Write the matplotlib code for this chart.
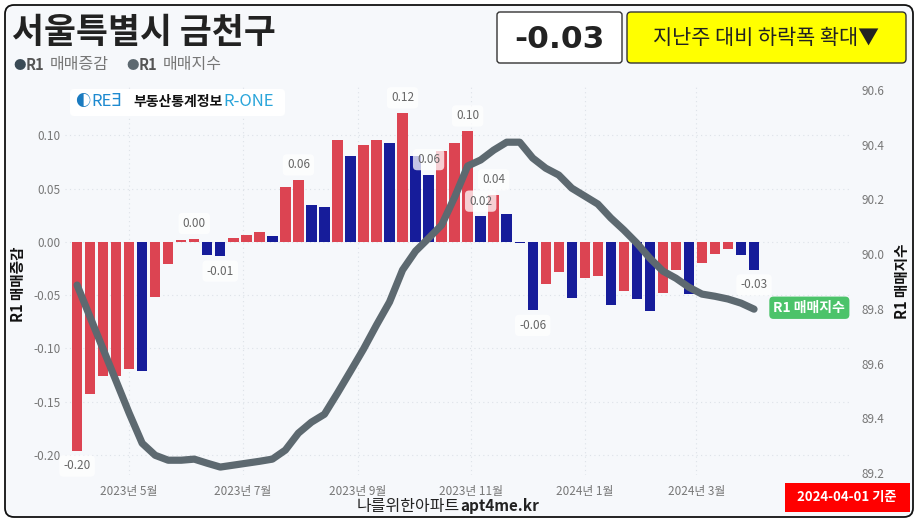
import matplotlib
matplotlib.use("Agg")
import matplotlib.pyplot as plt
from matplotlib.patches import FancyBboxPatch
from matplotlib.transforms import IdentityTransform
import pandas as pd

plt.rcParams['font.family'] = ['Noto Sans CJK KR', 'DejaVu Sans']

# weekly data, 2023-04-03 .. 2024-04-01
start_date = '2023-04-03'
n_weeks = 53
change = [-0.196, -0.143, -0.126, -0.126, -0.119, -0.121, -0.052, -0.021, 0.002, 0.003,
          -0.012, -0.013, 0.004, 0.007, 0.009, 0.006, 0.052, 0.058, 0.035, 0.033,
          0.096, 0.081, 0.091, 0.096, 0.093, 0.121, 0.081, 0.063, 0.085, 0.093,
          0.104, 0.024, 0.044, 0.026, -0.001, -0.064, -0.039, -0.028, -0.053, -0.034,
          -0.032, -0.059, -0.046, -0.054, -0.065, -0.048, -0.026, -0.049, -0.020, -0.011,
          -0.007, -0.012, -0.026]
index = [89.887, 89.770, 89.653, 89.536, 89.419, 89.309, 89.265, 89.247, 89.247, 89.251,
         89.236, 89.222, 89.229, 89.236, 89.243, 89.251, 89.284, 89.346, 89.386, 89.415,
         89.492, 89.572, 89.653, 89.741, 89.825, 89.942, 90.011, 90.058, 90.106, 90.208,
         90.322, 90.344, 90.380, 90.409, 90.409, 90.351, 90.314, 90.289, 90.241, 90.212,
         90.183, 90.132, 90.088, 90.040, 89.985, 89.938, 89.912, 89.879, 89.854, 89.846,
         89.836, 89.821, 89.799]
labeled = [0, 9, 11, 17, 25, 27, 30, 31, 32, 35, 52]
tick_dates = ['2023-05-01', '2023-07-01', '2023-09-01', '2023-11-01', '2024-01-01', '2024-03-01']
tick_names = ['2023년 5월', '2023년 7월', '2023년 9월', '2023년 11월', '2024년 1월', '2024년 3월']

RED = '#DC4452'
BLUE = '#161C9A'
LINE = '#5D6970'
GRAY = '#777777'

dates = pd.date_range(start_date, periods=n_weeks, freq='7D')
colors = [RED] + [RED if change[i] >= change[i - 1] else BLUE for i in range(1, len(change))]

W, H = 920, 524
fig = plt.figure(figsize=(W / 100, H / 100), dpi=100)
fig.patch.set_facecolor('white')


def fx(x):
    return x / W


def fy(y):
    return 1 - y / H


def box(x0, y0, x1, y1, fc, ec='none', lw=1.0, r=4, z=0):
    p = FancyBboxPatch((x0, H - y1), x1 - x0, y1 - y0,
                       boxstyle='round,pad=0,rounding_size=%d' % r,
                       fc=fc, ec=ec, lw=lw, transform=IdentityTransform(), zorder=z)
    fig.patches.append(p)


# card
box(5, 5, 913, 517, '#F6F8FB', ec='#111111', lw=1.3, r=9, z=-5)

ax = fig.add_axes([fx(65), fy(475), fx(850) - fx(65), fy(85) - fy(475)])
ax.set_facecolor('none')
ax2 = ax.twinx()

ax.bar(dates, change, width=5.6, color=colors, zorder=2)
ax.set_ylim(-0.2188, 0.1474)
ax.set_yticks([-0.20, -0.15, -0.10, -0.05, 0.00, 0.05, 0.10])
ax.set_yticklabels(['%.2f' % v for v in [-0.20, -0.15, -0.10, -0.05, 0.00, 0.05, 0.10]])
ax.set_xlim(dates[0] - pd.Timedelta(days=6.5), dates[-1] + pd.Timedelta(days=51.6))
ax.set_xticks(pd.to_datetime(tick_dates))
ax.set_xticklabels(tick_names)
ax.tick_params(axis='both', length=0, labelsize=8.5, colors=GRAY)
ax.tick_params(axis='y', pad=3)
ax.tick_params(axis='x', pad=7)
ax.grid(True, color='#DDE2E8', linestyle=(0, (1, 3)), linewidth=0.8, zorder=0)
for s in ax.spines.values():
    s.set_visible(False)

for i in labeled:
    v = change[i]
    off = 11 if v >= 0 else -11
    ax.annotate('%.2f' % v, (dates[i], v), xytext=(0, off), textcoords='offset points',
                ha='center', va='center', fontsize=8.5, color='#666666', zorder=5,
                bbox=dict(boxstyle='round,pad=0.35', fc='white', ec='none', alpha=0.75))

ax2.plot(dates, index, color=LINE, linewidth=5.2, solid_capstyle='round',
         solid_joinstyle='round', zorder=3)
ax2.set_ylim(89.193, 90.618)
ax2.set_yticks([89.2, 89.4, 89.6, 89.8, 90.0, 90.2, 90.4, 90.6])
ax2.set_yticklabels(['%.1f' % v for v in [89.2, 89.4, 89.6, 89.8, 90.0, 90.2, 90.4, 90.6]])
ax2.tick_params(axis='y', length=0, labelsize=8.5, colors=GRAY, pad=8)
for s in ax2.spines.values():
    s.set_visible(False)

ax2.annotate('R1 매매지수', (dates[-1], index[-1]), xytext=(14, 1), textcoords='offset points',
             ha='left', va='center', fontsize=10, fontweight='bold', color='white',
             bbox=dict(boxstyle='round,pad=0.3', fc='#4CC36A', ec='none'), zorder=6)

# axis titles
fig.text(fx(18), fy(284), 'R1 매매증감', rotation=90, ha='center', va='center',
         fontsize=10.5, fontweight='bold', color='#111111')
fig.text(fx(902), fy(281), 'R1 매매지수', rotation=90, ha='center', va='center',
         fontsize=10.5, fontweight='bold', color='#111111')

# title + legend
fig.text(fx(12), fy(32), '서울특별시 금천구', ha='left', va='center', fontsize=25,
         fontweight='bold', color='#222222')
fig.text(fx(13), fy(65), '●', ha='left', va='center', fontsize=9, color='#3A4A55')
fig.text(fx(26), fy(65), 'R1', ha='left', va='center', fontsize=10.5, fontweight='bold', color='#555555')
fig.text(fx(50), fy(65), '매매증감', ha='left', va='center', fontsize=11.5, color='#777777')
fig.text(fx(126), fy(65), '●', ha='left', va='center', fontsize=9, color='#5D6970')
fig.text(fx(139), fy(65), 'R1', ha='left', va='center', fontsize=10.5, fontweight='bold', color='#555555')
fig.text(fx(163), fy(65), '매매지수', ha='left', va='center', fontsize=11.5, color='#777777')

# headline boxes
box(497, 12, 622, 63, 'white', ec='#333333', lw=1.0, r=3)
fig.text(fx(559), fy(39), '%.2f' % change[-1], ha='center', va='center', fontsize=22.5,
         fontweight='bold', color='#222222', family=['DejaVu Sans'])
box(627, 12, 906, 63, '#FFFF00', ec='#333333', lw=1.0, r=4)
fig.text(fx(766), fy(38), '지난주 대비 하락폭 확대▼', ha='center', va='center', fontsize=15,
         color='#222222', family=['Noto Sans CJK KR', 'DejaVu Sans'])

# logo
box(70, 89, 285, 116, 'white', r=4, z=1)
fig.text(fx(75), fy(102), '◐', ha='left', va='center', fontsize=11, color='#1B7BC0', zorder=2)
fig.text(fx(91), fy(102), 'REƎ', ha='left', va='center', fontsize=12, color='#1E8AD0', zorder=2)
fig.text(fx(133), fy(102), '부동산통계정보', ha='left', va='center', fontsize=10,
         fontweight='bold', color='#111111', zorder=2)
fig.text(fx(223), fy(102), 'R-ONE', ha='left', va='center', fontsize=12, color='#2AA5DA', zorder=2)

# footer
fig.text(fx(460), fy(506), '나를위한아파트', ha='right', va='center', fontsize=11.5, color='#222222')
fig.text(fx(460), fy(506), 'apt4me.kr', ha='left', va='center', fontsize=11, fontweight='bold',
         color='#222222')
box(785, 483, 910, 512, '#FF0000', r=0)
fig.text(fx(847), fy(497), '2024-04-01 기준', ha='center', va='center', fontsize=9.5,
         fontweight='bold', color='white')

fig.savefig('out.png', dpi=100)
